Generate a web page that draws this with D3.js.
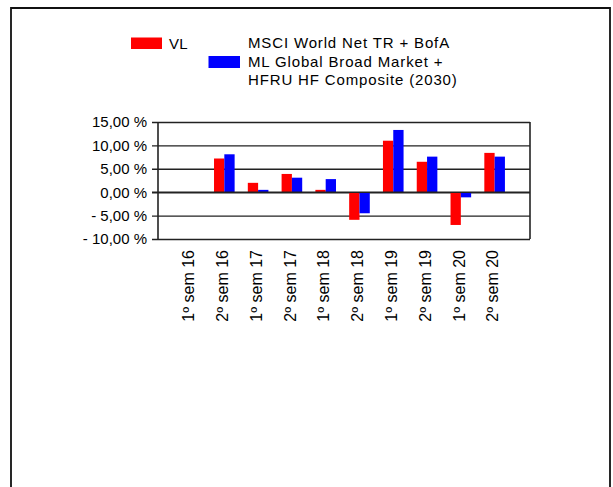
<!DOCTYPE html>
<html><head><meta charset="utf-8">
<script src="https://cdn.jsdelivr.net/npm/d3@7"></script>
<style>
html,body{margin:0;padding:0;background:#fff;}
svg{display:block;}
text{font-family:"Liberation Sans",Arial,sans-serif;fill:#000;}
</style></head>
<body>
<svg id="c" width="613" height="487"></svg>
<script>
const categories = ["1º sem 16","2º sem 16","1º sem 17","2º sem 17","1º sem 18","2º sem 18","1º sem 19","2º sem 19","1º sem 20","2º sem 20"];
const vlValues = [null, 7.2, 2.0, 3.9, 0.5, -5.9, 11.0, 6.5, -7.0, 8.4];
const benchValues = [null, 8.1, 0.5, 3.1, 2.8, -4.5, 13.3, 7.6, -1.1, 7.6];
const seriesNames = ["VL", "MSCI World Net TR + BofA|ML Global Broad Market +|HFRU HF Composite (2030)"];
const seriesColors = ["#ff0000", "#0000ff"];
const yTicks = [15, 10, 5, 0, -5, -10];

const svg = d3.select("#c");

// outer frame
svg.append("path")
  .attr("d", "M11,490 L11,8 L610,8 L610,490")
  .attr("fill", "none").attr("stroke", "#111").attr("stroke-width", 1.8);

const plot = {left: 158, right: 530, top: 122, bottom: 239};
const y = d3.scaleLinear().domain([-10, 15]).range([plot.bottom, plot.top]);
const x = d3.scaleBand().domain(categories).range([plot.left, plot.right])
  .paddingInner(0.39).paddingOuter(0.7).align(0.47);
const xs = d3.scaleBand().domain([0, 1]).range([0, x.bandwidth()]);

const fmt = v => (v < 0 ? "- " : "") + d3.format(".2f")(Math.abs(v)).replace(".", ",") + " %";

// gridlines + ticks
const yAxis = d3.axisLeft(y).tickValues(yTicks).tickFormat(fmt)
  .tickSizeInner(-(plot.right - plot.left)).tickSizeOuter(0).tickPadding(11);
const ga = svg.append("g").attr("transform", `translate(${plot.left},0)`).call(yAxis);
ga.select(".domain").remove();
ga.selectAll(".tick line").attr("stroke", "#222").attr("stroke-width", 1.4).attr("x1", -6);
ga.selectAll(".tick text").attr("font-size", 15).attr("fill", "#000")
  .attr("font-family", "'Liberation Sans', Arial, sans-serif").attr("x", -11);

// bars
const data = [vlValues, benchValues];
data.forEach((vals, si) => {
  svg.append("g").selectAll("rect")
    .data(categories.map((c, i) => ({c, v: vals[i]})).filter(d => d.v !== null))
    .join("rect")
    .attr("x", d => x(d.c) + xs(si))
    .attr("width", xs.bandwidth())
    .attr("y", d => y(Math.max(0, d.v)))
    .attr("height", d => Math.abs(y(d.v) - y(0)))
    .attr("fill", seriesColors[si]);
});

// zero line over bars
svg.append("line").attr("x1", plot.left - 6).attr("x2", plot.right)
  .attr("y1", y(0)).attr("y2", y(0)).attr("stroke", "#222").attr("stroke-width", 1.4);

// frame axis lines
svg.append("line").attr("x1", plot.left).attr("x2", plot.left)
  .attr("y1", plot.top).attr("y2", plot.bottom).attr("stroke", "#222").attr("stroke-width", 1.6);
svg.append("line").attr("x1", plot.right).attr("x2", plot.right)
  .attr("y1", plot.top).attr("y2", plot.bottom).attr("stroke", "#222").attr("stroke-width", 1.6);

// x labels
svg.append("g").selectAll("text").data(categories).join("text")
  .attr("transform", d => `translate(${x(d) + x.bandwidth()/2 - 2},250) rotate(-90)`)
  .attr("text-anchor", "end").attr("dy", "0.36em")
  .attr("font-size", 16).text(d => d);

// legend
const lg = svg.append("g");
lg.append("rect").attr("x", 131).attr("y", 37.5).attr("width", 31).attr("height", 11.5).attr("fill", seriesColors[0]);
lg.append("text").attr("x", 169).attr("y", 48.5).attr("font-size", 15).attr("letter-spacing", 0.3).text(seriesNames[0]);
lg.append("rect").attr("x", 208.5).attr("y", 56).attr("width", 31.5).attr("height", 12).attr("fill", seriesColors[1]);
seriesNames[1].split("|").forEach((t, i) => {
  lg.append("text").attr("x", 248).attr("y", 48 + i * 18.5)
    .attr("font-size", 15).attr("letter-spacing", 0.85).text(t);
});
</script>
</body></html>
